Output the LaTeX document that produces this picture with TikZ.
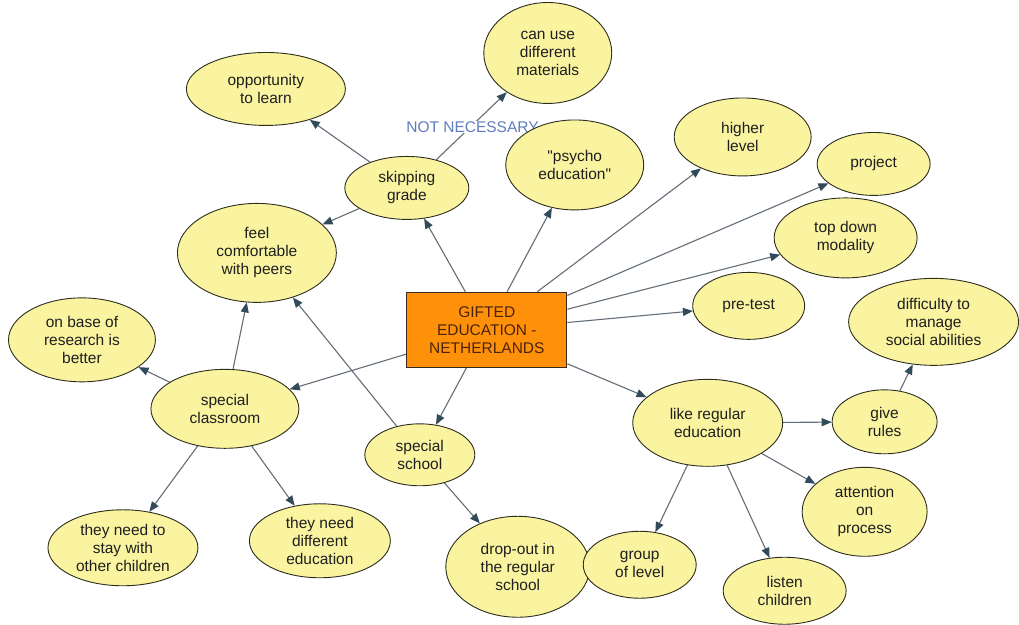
\documentclass[tikz,border=0pt]{standalone}
\usepackage{fontspec}
\setmainfont{Liberation Sans}
\usetikzlibrary{shapes.geometric,arrows.meta}
\pgfdeclarelayer{links}
\pgfsetlayers{links,main}
\definecolor{bubfill}{RGB}{250,244,160}
\definecolor{bubline}{RGB}{45,45,30}
\definecolor{hubfill}{RGB}{255,145,10}
\definecolor{hubline}{RGB}{60,40,30}
\definecolor{hubtext}{RGB}{75,35,10}
\definecolor{edgecol}{RGB}{100,110,120}
\definecolor{tipcol}{RGB}{50,75,90}
\definecolor{labcol}{RGB}{95,125,190}
\newcommand{\mapfont}{\fontsize{15.5}{18}\selectfont}
\tikzset{
  bub/.style={ellipse, draw=bubline, fill=bubfill, line width=0.9pt,
    align=center, inner sep=0pt, font=\mapfont, text=black!88},
  hub/.style={rectangle, draw=hubline, fill=hubfill, line width=1.3pt,
    align=center, inner sep=0pt, font=\mapfont, text=hubtext,
    minimum width=160pt, minimum height=75pt},
  conn/.style={draw=edgecol, line width=1.1pt,
    -{Triangle[length=10pt,width=8pt,color=tipcol]}},
  linklabel/.style={fill=white, font=\mapfont, text=labcol,
    inner xsep=0pt, inner ysep=1pt}
}
\begin{document}
\begin{tikzpicture}[x=1pt,y=-1pt]
\begin{pgfonlayer}{links}
\useasboundingbox[fill=white] (0,0) rectangle (1019,625);
\end{pgfonlayer}

% central concept
\node[hub] (gifted) at (487,330) {GIFTED\\EDUCATION -\\NETHERLANDS};

% concepts around it
\node[bub, minimum width=159pt, minimum height=73pt] (opportunity) at (266,89) {opportunity\\to learn};
\node[bub, minimum width=128pt, minimum height=101pt] (materials) at (548,53) {can use\\different\\materials};
\node[bub, minimum width=124pt, minimum height=63pt] (skipping) at (407,188) {skipping\\grade};
\node[bub, minimum width=138pt, minimum height=90pt] (psycho) at (575,165) {\textquotedbl psycho\\education\textquotedbl};
\node[bub, minimum width=137pt, minimum height=78pt] (higher) at (743,137) {higher\\level};
\node[bub, minimum width=113pt, minimum height=63pt] (project) at (874,164) {project};
\node[bub, minimum width=143pt, minimum height=80pt] (topdown) at (846,238) {top down\\modality};
\node[bub, minimum width=112pt, minimum height=67pt] (pretest) at (749,306) {pre-test};
\node[bub, minimum width=170pt, minimum height=87pt] (difficulty) at (934,322) {difficulty to\\manage\\social abilities};
\node[bub, minimum width=159pt, minimum height=99pt] (comfortable) at (257,253) {feel\\comfortable\\with peers};
\node[bub, minimum width=147pt, minimum height=84pt] (research) at (82,340) {on base of\\research is\\better};
\node[bub, minimum width=148pt, minimum height=79pt] (classroom) at (225,409) {special\\classroom};
\node[bub, minimum width=110pt, minimum height=62pt] (school) at (420,455) {special\\school};
\node[bub, minimum width=150pt, minimum height=87pt] (regular) at (708,423) {like regular\\education};
\node[bub, minimum width=105pt, minimum height=64pt] (rules) at (885,422) {give\\rules};
\node[bub, minimum width=125pt, minimum height=89pt] (attention) at (865,512) {attention\\on\\process};
\node[bub, minimum width=150pt, minimum height=76pt] (stay) at (123,548) {they need to\\stay with\\other children};
\node[bub, minimum width=141pt, minimum height=74pt] (different) at (320,541) {they need\\different\\education};
\node[bub, minimum width=144pt, minimum height=101pt] (dropout) at (518,567) {drop-out in\\the regular\\school};
\node[bub, minimum width=113pt, minimum height=67pt] (group) at (640,565) {group\\of level};
\node[bub, minimum width=123pt, minimum height=67pt] (listen) at (785,591) {listen\\children};

\begin{pgfonlayer}{links}
% links from the central concept
\draw[conn] (gifted) -- (skipping);
\draw[conn] (gifted) -- (psycho);
\draw[conn] (gifted) -- (higher);
\draw[conn] (gifted) -- (project);
\draw[conn] (gifted) -- (topdown);
\draw[conn] (gifted) -- (pretest);
\draw[conn] (gifted) -- (classroom);
\draw[conn] (gifted) -- (school);
\draw[conn] (gifted) -- (regular);

% skipping grade
\draw[conn] (skipping) -- (opportunity);
\draw[conn] (skipping) -- (comfortable);
\draw[conn] (skipping) -- node[linklabel, xshift=1pt, yshift=-1pt] {NOT NECESSARY} (materials);

% special classroom
\draw[conn] (classroom) -- (comfortable);
\draw[conn] (classroom) -- (research);
\draw[conn] (classroom) -- (stay);
\draw[conn] (classroom) -- (different);

% special school
\draw[conn] (school) -- (comfortable);
\draw[conn] (school) -- (dropout);

% like regular education
\draw[conn] (regular) -- (rules);
\draw[conn] (regular) -- (group);
\draw[conn] (regular) -- (listen);
\draw[conn] (regular) -- (attention);
\draw[conn] (rules) -- (difficulty);
\end{pgfonlayer}
\end{tikzpicture}
\end{document}
